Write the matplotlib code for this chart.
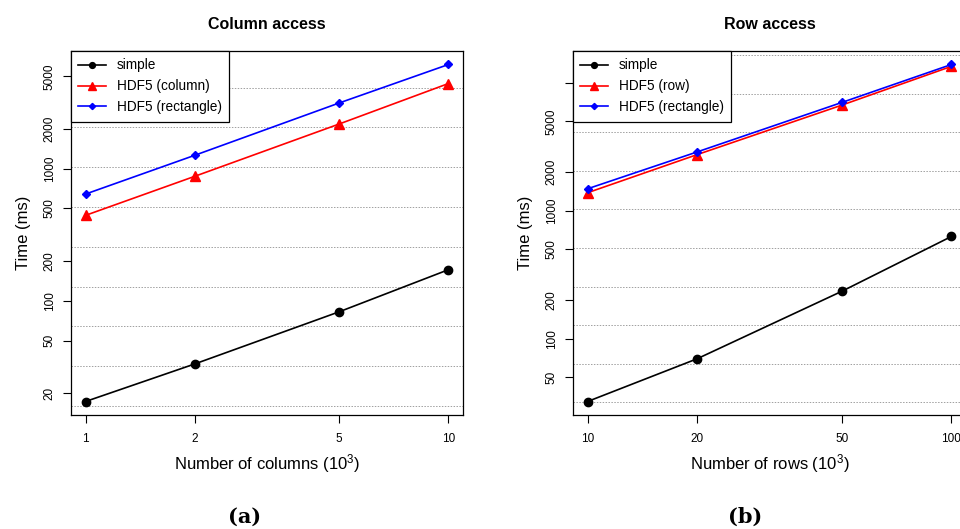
import numpy as np
import matplotlib
matplotlib.use('Agg')
import matplotlib.pyplot as plt

plt.rcParams['font.family'] = ['Liberation Sans', 'DejaVu Sans']

# data
cols = [1, 2, 5, 10]
colSimple = [17.3, 33.3, 82.6, 172]
colHdf = [443, 875, 2177, 4406]
colRect = [642, 1262, 3140, 6138]

rows = [10, 20, 50, 100]
rowSimple = [32.3, 69.7, 235, 630]
rowHdf = [1384, 2748, 6700, 13460]
rowRect = [1486, 2884, 7030, 13920]

colYticks = [20, 50, 100, 200, 500, 1000, 2000, 5000]
rowYticks = [50, 100, 200, 500, 1000, 2000, 5000, 10000]
rowYlabels = ['50', '100', '200', '500', '1000', '2000', '5000', '']


def rpad(lo, hi):
	# R style 4% padding on log axis
	a, b = np.log10(lo), np.log10(hi)
	d = (b - a) * 0.04
	return 10 ** (a - d), 10 ** (b + d)


def panel(ax, x, s, h, r, hname, yticks, ylabels, title, xlabel):
	ax.set_xscale('log'); ax.set_yscale('log')
	ax.set_xlim(*rpad(min(x), max(x)))
	ax.set_ylim(*rpad(min(s), max(r)))
	lo, hi = ax.get_ylim()
	for k in range(0, 20):
		if lo < 2 ** k < hi:
			ax.axhline(2 ** k, color='#a0a0a0', lw=0.7, ls=(0, (1.5, 1.5)), zorder=1)
	ax.plot(x, s, '-o', color='black', ms=6, lw=1.2, label='simple', zorder=3)
	ax.plot(x, h, '-^', color='red', ms=7.5, lw=1.2, label=hname, zorder=3)
	ax.plot(x, r, '-D', color='blue', ms=4.5, lw=1.2, label='HDF5 (rectangle)', zorder=3)
	ax.set_xticks(x)
	ax.set_xticklabels([str(v) for v in x])
	ax.set_yticks(yticks)
	ax.set_yticklabels(ylabels, rotation=90, va='center')
	ax.minorticks_off()
	ax.tick_params(direction='out', length=6, width=0.8, labelsize=8.5)
	ax.tick_params(axis='x', pad=7)
	ax.tick_params(axis='y', pad=5)
	for sp in ax.spines.values():
		sp.set_linewidth(0.9)
	ax.set_title(title, fontsize=11.5, fontweight='bold', pad=16)
	ax.set_xlabel(xlabel, fontsize=12, labelpad=5)
	ax.set_ylabel('Time (ms)', fontsize=12, labelpad=9)
	leg = ax.legend(loc='upper left', fontsize=9.8, fancybox=False, framealpha=1,
		edgecolor='black', borderaxespad=0, handlelength=2.0, handletextpad=0.8,
		labelspacing=0.5, borderpad=0.55, markerscale=0.7)
	leg.get_frame().set_linewidth(0.9)
	leg.set_zorder(5)


fig = plt.figure(figsize=(9.6, 5.29), dpi=100)
ax1 = fig.add_axes([71/960, 1-415/529, 392/960, 364/529])
ax2 = fig.add_axes([573/960, 1-415/529, 393/960, 364/529])

panel(ax1, cols, colSimple, colHdf, colRect, 'HDF5 (column)',
	colYticks, [str(v) for v in colYticks], 'Column access',
	r'Number of columns ($\mathregular{10^3}$)')
panel(ax2, rows, rowSimple, rowHdf, rowRect, 'HDF5 (row)',
	rowYticks, rowYlabels, 'Row access',
	r'Number of rows ($\mathregular{10^3}$)')

fig.text(245/960, 1-517/529, '(a)', family='DejaVu Serif', fontweight='bold',
	fontsize=15, ha='center', va='center')
fig.text(745/960, 1-517/529, '(b)', family='DejaVu Serif', fontweight='bold',
	fontsize=15, ha='center', va='center')

fig.savefig('out.png', dpi=100)
